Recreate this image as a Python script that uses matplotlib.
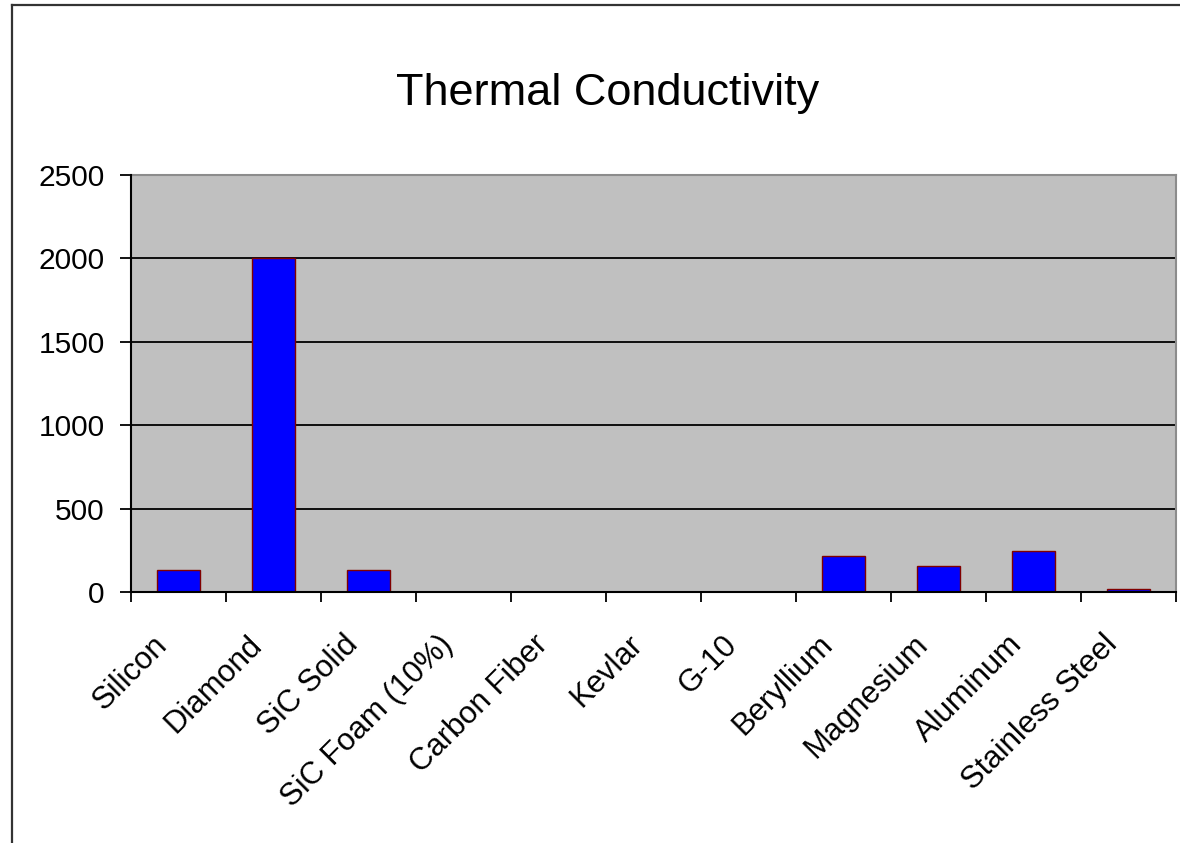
import matplotlib
matplotlib.use("Agg")
import matplotlib.pyplot as plt
import matplotlib.transforms as mtransforms
from matplotlib.lines import Line2D
import numpy as np

plt.rcParams['font.family'] = ['Liberation Sans', 'DejaVu Sans']

title = "Thermal Conductivity"
materials = ["Silicon", "Diamond", "SiC Solid", "SiC Foam (10%)", "Carbon Fiber",
             "Kevlar", "G-10", "Beryllium", "Magnesium", "Aluminum", "Stainless Steel"]
conductivity = [130, 2000, 130, 0, 0, 0, 0, 216, 156, 246, 16]
y_ticks = [0, 500, 1000, 1500, 2000, 2500]

W, H = 1180, 843
fig = plt.figure(figsize=(W / 100, H / 100), dpi=100)
fig.patch.set_facecolor('white')

# plot area in pixel coordinates
left, right, top, bottom = 131, 1176, 175, 592
ax = fig.add_axes([left / W, (H - bottom) / H, (right - left) / W, (bottom - top) / H])
ax.set_facecolor('#C0C0C0')

x = np.arange(len(materials))
ax.bar(x, conductivity, width=0.444, color='#0000FF', edgecolor='#800000',
       linewidth=1.0, zorder=3)

ax.set_xlim(-0.5, len(materials) - 0.5)
ax.set_ylim(0, 2500)

# gridlines
ax.set_yticks(y_ticks)
ax.yaxis.grid(True, color='black', linewidth=1.3, zorder=1)
ax.set_axisbelow(True)

for side in ('top', 'right'):
    ax.spines[side].set_color('#8C8C8C')
    ax.spines[side].set_linewidth(1.5)
for side in ('left', 'bottom'):
    ax.spines[side].set_color('black')
    ax.spines[side].set_linewidth(1.5)
    ax.spines[side].set_zorder(4)

ax.tick_params(axis='y', direction='out', length=8, width=1.3, pad=11,
               labelsize=21.5, colors='black')
ax.set_yticklabels([str(v) for v in y_ticks])

# category boundaries carry the x ticks; labels sit at the centers
ax.set_xticks(x)
ax.set_xticks(np.arange(len(materials) + 1) - 0.5, minor=True)
ax.tick_params(axis='x', which='major', length=0, pad=27, labelsize=22.3)
ax.tick_params(axis='x', which='minor', direction='out', length=7.5, width=1.3)
labels = ax.set_xticklabels(materials, rotation=45, ha='right', va='top',
                            rotation_mode='anchor')
shift = mtransforms.ScaledTranslation(-26 / 100, 0, fig.dpi_scale_trans)
for lbl in labels:
    lbl.set_transform(lbl.get_transform() + shift)

fig.text(607.5 / W, (H - 105) / H, title, ha='center', va='baseline',
         fontsize=32.5, color='black')

# chart frame along the left and top edges
fig.add_artist(Line2D([11.5 / W, 11.5 / W], [0, (H - 4.5) / H], color='#333333',
                      linewidth=1.6, transform=fig.transFigure))
fig.add_artist(Line2D([11.5 / W, 1], [(H - 4.5) / H, (H - 4.5) / H], color='#333333',
                      linewidth=1.6, transform=fig.transFigure))

fig.savefig('out.png', dpi=100)
